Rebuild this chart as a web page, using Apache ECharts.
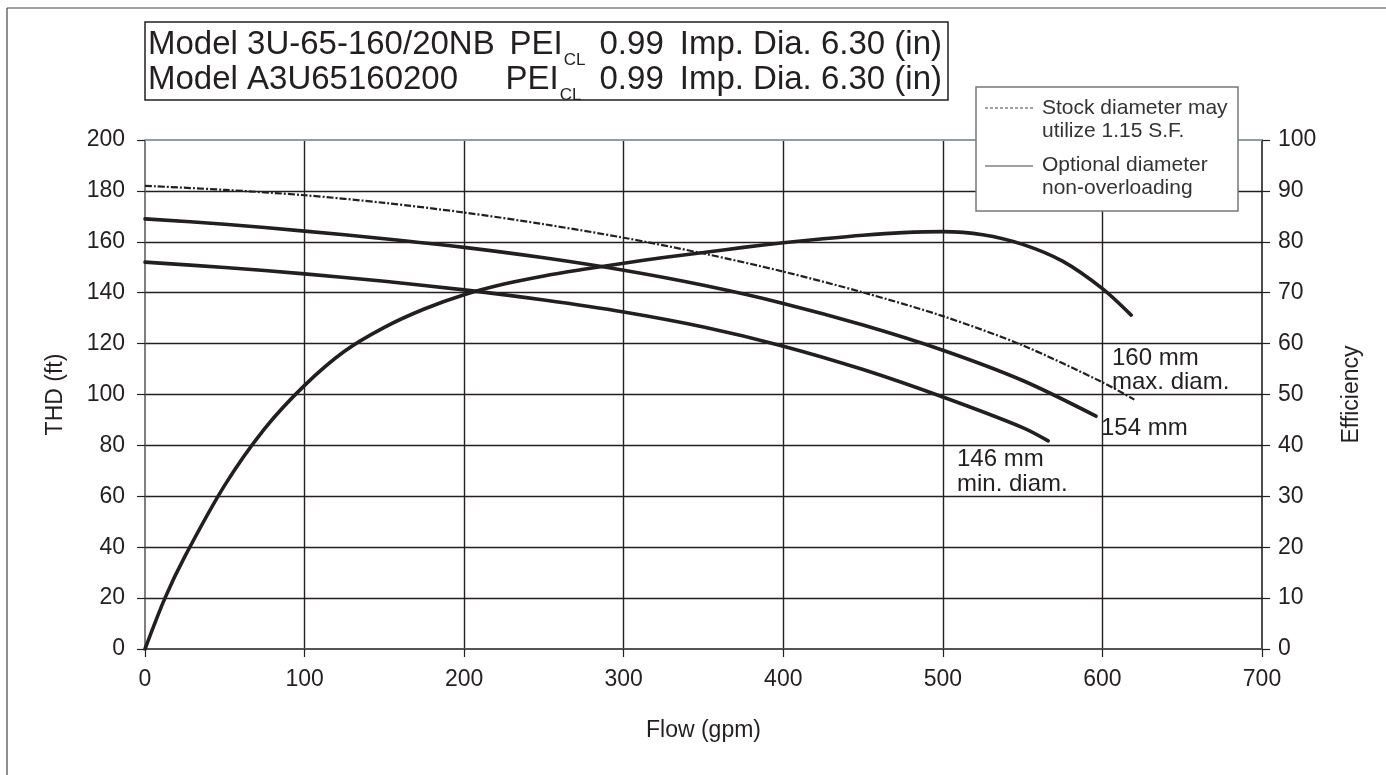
<!DOCTYPE html>
<html><head><meta charset="utf-8">
<script src="https://cdn.jsdelivr.net/npm/echarts@6/dist/echarts.min.js"></script>
<style>html,body{margin:0;padding:0;background:#fff}#c{width:1386px;height:775px}</style>
</head><body><div id="c"></div>
<script>
// ---- data ----
const flowTicks = [0, 100, 200, 300, 400, 500, 600, 700];
const headTicks = [0, 20, 40, 60, 80, 100, 120, 140, 160, 180, 200];
const effTicks = [0, 10, 20, 30, 40, 50, 60, 70, 80, 90, 100];

const head160 = [[0,182],[50,180.4],[100,178.3],[150,175.3],[200,171.5],[250,166.9],[300,161.6],[350,155.4],[400,148.3],[450,140.1],[500,130.8],[550,119.3],[600,104.8],[620,98]];
const head154 = [[0,169],[50,166.9],[100,164.2],[150,161.2],[200,157.8],[250,153.7],[300,148.8],[350,142.9],[400,135.8],[450,127.3],[500,117.4],[550,105.5],[596,91.5]];
const head146 = [[0,152],[50,149.9],[100,147.4],[150,144.5],[200,141.1],[250,137.1],[300,132.4],[350,126.5],[400,119],[450,109.8],[500,99],[550,87],[566,81.8]];
const efficiency = [[0,0],[12.5,10],[25,18.2],[50,32.2],[75,43.3],[100,51.8],[125,58.5],[150,63.2],[175,66.8],[200,69.6],[225,71.7],[250,73.3],[275,74.6],[300,75.8],[325,76.9],[350,77.9],[375,78.9],[400,79.8],[425,80.6],[450,81.3],[475,81.8],[500,82],[525,81.4],[550,79.5],[575,76.2],[600,70.8],[618,65.6]];

const titleLine1 = ['Model 3U-65-160/20NB', 'PEI', 'CL', '0.99', 'Imp. Dia. 6.30 (in)'];
const titleLine2 = ['Model A3U65160200', 'PEI', 'CL', '0.99', 'Imp. Dia. 6.30 (in)'];
const legendTexts = [['Stock diameter may', 'utilize 1.15 S.F.'], ['Optional diameter', 'non-overloading']];
const curveLabels = [['160 mm', 'max. diam.'], ['154 mm'], ['146 mm', 'min. diam.']];

// ---- styling ----
const FONT = '"Liberation Sans", Arial, Helvetica, sans-serif';
const INK = '#231f20';
const TXT = '#231f20';

const ctx = document.createElement('canvas').getContext('2d');
function tw(s, size) { ctx.font = size + 'px ' + FONT; return ctx.measureText(s).width; }

function titleLine(parts, y, rightX, leftX, gapA, gapB) {
  const big = 33, small = 17;
  const els = [];
  const t = (text, x, yy, size) => els.push({type:'text', x:x, y:yy, style:{text:text, font: size+'px '+FONT, fill:TXT, textVerticalAlign:'middle'}});
  t(parts[0], leftX, y, big);
  let x = rightX - tw(parts[4], big);
  t(parts[4], x, y, big);
  x -= gapA + tw(parts[3], big);
  t(parts[3], x, y, big);
  x -= gapB + tw(parts[2], small);
  t(parts[2], x, y + 15, small);
  x -= 1 + tw(parts[1], big);
  t(parts[1], x, y, big);
  return els;
}

const graphics = [];
// outer frame (left and top edges visible)
graphics.push({type:'line', shape:{x1:7, y1:8, x2:1386, y2:8}, style:{stroke:'#444', lineWidth:1.2}, z:0});
graphics.push({type:'line', shape:{x1:7, y1:8, x2:7, y2:775}, style:{stroke:'#444', lineWidth:1.2}, z:0});
// title box
graphics.push({type:'rect', shape:{x:145, y:22, width:803, height:78}, style:{fill:'#fff', stroke:INK, lineWidth:1.5}, z:10});
titleLine(titleLine1, 45, 942, 148, 16, 14).forEach(e => { e.z = 11; graphics.push(e); });
titleLine(titleLine2, 80, 942, 148, 16, 18).forEach(e => { e.z = 11; graphics.push(e); });
// legend box
graphics.push({type:'rect', shape:{x:976, y:87, width:262, height:124}, style:{fill:'#fff', stroke:'#777', lineWidth:1.5}, z:10});
graphics.push({type:'line', shape:{x1:985, y1:108, x2:1033, y2:108}, style:{stroke:'#444', lineWidth:1.2, lineDash:[3,2]}, z:11});
graphics.push({type:'line', shape:{x1:985, y1:166, x2:1033, y2:166}, style:{stroke:'#444', lineWidth:1.2}, z:11});
[[legendTexts[0][0],108],[legendTexts[0][1],131],[legendTexts[1][0],165],[legendTexts[1][1],188]].forEach(([t,y]) => {
  graphics.push({type:'text', x:1042, y:y, style:{text:t, font:'21px '+FONT, fill:'#333', textVerticalAlign:'middle'}, z:11});
});
// curve labels
const lab = (t, x, y) => graphics.push({type:'text', x:x, y:y, style:{text:t, font:'24px '+FONT, fill:TXT, textVerticalAlign:'middle'}, z:5});
lab(curveLabels[0][0], 1112, 358); lab(curveLabels[0][1], 1112, 382);
lab(curveLabels[1][0], 1101, 428);
lab(curveLabels[2][0], 957, 459); lab(curveLabels[2][1], 957, 484);

const chart = echarts.init(document.getElementById('c'), null, {renderer:'canvas'});
const curveStyle = {color: INK, width: 3.6, cap: 'round'};
chart.setOption({
  backgroundColor: '#fff',
  animation: false,
  textStyle: {fontFamily: FONT},
  grid: {left:145, right:124, top:140, bottom:126, containLabel:false},
  xAxis: {
    type:'value', min:flowTicks[0], max:flowTicks[flowTicks.length-1], interval:100,
    name:'Flow (gpm)', nameLocation:'middle', nameGap:70,
    nameTextStyle:{fontSize:23, color:TXT, fontFamily:FONT},
    axisLine:{show:true, onZero:false, lineStyle:{color:'#555', width:2}},
    axisTick:{show:true, inside:false, length:8, lineStyle:{color:INK, width:1.2}},
    axisLabel:{fontSize:23, color:TXT, margin:19, fontFamily:FONT, formatter: v => flowTicks.includes(v) ? String(v) : ''},
    splitLine:{show:true, showMinLine:false, showMaxLine:false, lineStyle:{color:INK, width:1.4}}
  },
  yAxis: [{
    type:'value', min:headTicks[0], max:headTicks[headTicks.length-1], interval:20, position:'left',
    name:'THD (ft)', nameLocation:'middle', nameGap:78, nameRotate:90,
    nameTextStyle:{fontSize:23, color:TXT, fontFamily:FONT},
    axisLine:{show:true, lineStyle:{color:'#555', width:1.5}},
    axisTick:{show:true, length:8, lineStyle:{color:INK, width:1.2}},
    axisLabel:{fontSize:23, color:TXT, margin:20, fontFamily:FONT, formatter: v => headTicks.includes(v) ? String(v) : ''},
    splitLine:{show:true, showMinLine:false, showMaxLine:false, lineStyle:{color:INK, width:1.4}}
  },{
    type:'value', min:effTicks[0], max:effTicks[effTicks.length-1], interval:10, position:'right',
    name:'Efficiency', nameLocation:'middle', nameGap:78, nameRotate:90,
    nameTextStyle:{fontSize:23, color:TXT, fontFamily:FONT},
    axisLine:{show:true, lineStyle:{color:INK, width:1.6}},
    axisTick:{show:true, length:8, lineStyle:{color:INK, width:1.2}},
    axisLabel:{fontSize:23, color:TXT, margin:16, fontFamily:FONT, formatter: v => effTicks.includes(v) ? String(v) : ''},
    splitLine:{show:false}
  }],
  series: [
    {name:'160 mm', type:'line', data:head160, smooth:0.3, symbol:'none',
     lineStyle:{color:INK, width:2.2, type:[7,2,2,2]}, z:3,
     markLine:{silent:true, symbol:'none', label:{show:false}, data:[{yAxis:headTicks[headTicks.length-1]}],
               lineStyle:{color:'#8f9cab', width:2.2, type:'solid'}}},
    {name:'154 mm', type:'line', data:head154, smooth:0.3, symbol:'none', lineStyle:curveStyle, z:3},
    {name:'146 mm', type:'line', data:head146, smooth:0.3, symbol:'none', lineStyle:curveStyle, z:3},
    {name:'Efficiency', type:'line', yAxisIndex:1, data:efficiency, smooth:0.3, symbol:'none', lineStyle:curveStyle, z:3}
  ],
  graphic: graphics
});
</script>
</body></html>
